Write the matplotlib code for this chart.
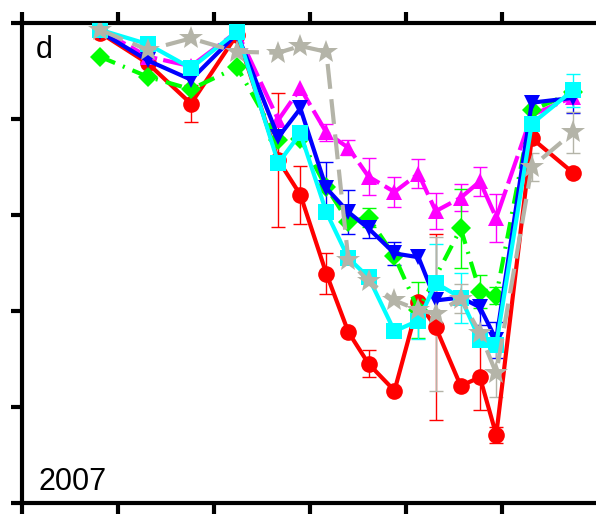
import numpy as np
import matplotlib
matplotlib.use("Agg")
import matplotlib.pyplot as plt

plt.rcParams['font.family'] = ['Liberation Sans', 'DejaVu Sans']

# sampling positions (in tick units)
x = [0.81, 1.31, 1.76, 2.24, 2.67, 2.90, 3.17, 3.40, 3.61, 3.88, 4.13, 4.31, 4.57, 4.77, 4.94, 5.31, 5.74]

red = [4.90, 4.58, 4.16, 4.88, 3.57, 3.21, 2.39, 1.78, 1.45, 1.17, 2.09, 1.83, 1.22, 1.31, 0.71, 3.80, 3.44]
red_err = [0, 0, 0.19, 0, 0.70, 0.30, 0.21, 0, 0.14, 0, 0, 0.97, 0, 0.34, 0.08, 0, 0]

blue = [4.91, 4.61, 4.41, 4.89, 3.81, 4.11, 3.28, 3.03, 2.86, 2.60, 2.56, 2.11, 2.14, 2.04, 1.70, 4.17, 4.22]
blue_err = [0, 0, 0, 0, 0, 0, 0.27, 0.23, 0.10, 0.12, 0, 0, 0, 0.19, 0.19, 0, 0.16]

magenta = [4.93, 4.65, 4.55, 4.91, 3.99, 4.32, 3.86, 3.70, 3.40, 3.24, 3.43, 3.04, 3.18, 3.35, 2.97, 4.04, 4.23]
magenta_err = [0, 0, 0, 0, 0, 0, 0.09, 0.08, 0.19, 0.16, 0.15, 0.19, 0.14, 0.15, 0.25, 0, 0]

green = [4.65, 4.44, 4.31, 4.54, 3.78, 3.79, 3.29, 2.93, 2.97, 2.57, 2.01, np.nan, 2.86, 2.20, 2.16, 4.09, 4.28]
green_err = [0, 0, 0, 0, 0, 0, 0, 0, 0.10, 0, 0.29, 0, 0.41, 0.17, 0.09, 0, 0]

cyan = [4.93, 4.78, 4.53, 4.91, 3.54, 3.85, 3.03, 2.55, 2.35, 1.79, 1.90, 2.29, 2.14, 1.70, 1.65, 3.95, 4.30]
cyan_err = [0, 0, 0, 0, 0, 0, 0, 0, 0, 0, 0.19, 0.41, 0.26, 0, 0, 0, 0.17]

gray = [4.93, 4.72, 4.84, 4.70, 4.69, 4.76, 4.70, 2.53, 2.31, 2.11, 2.01, 1.97, 2.13, 1.77, 1.35, 3.50, 3.86]
gray_err = [0, 0, 0, 0, 0, 0, 0, 0, 0, 0, 0, 0.80, 0.15, 0, 0.25, 0.15, 0.21]

series = [
    (red, red_err, '#ff0000', 'o', 12, None),
    (magenta, magenta_err, '#ff00ff', '^', 12, (7, 1.5)),
    (green, green_err, '#00ff00', 'D', 10, (4, 2, 0.5, 2)),
    (blue, blue_err, '#0000ff', 'v', 12, None),
    (cyan, cyan_err, '#00ffff', 's', 11, None),
    (gray, gray_err, '#b4b4a8', '*', 18, (6, 2.5)),
]

fig = plt.figure(figsize=(5.96, 5.16), dpi=100)
ax = fig.add_axes([22 / 596, 13 / 516, 1 - 22 / 596, 480 / 516])

xs = np.array(x)
for vals, errs, color, marker, ms, dashes in series:
    vals = np.array(vals)
    errs = np.array(errs)
    ok = ~np.isnan(vals)
    eb = ok & (errs > 0)
    ax.errorbar(xs[eb], vals[eb], yerr=errs[eb], fmt='none', ecolor=color,
                elinewidth=1.0, capsize=5, capthick=1.0, zorder=2)
    line, = ax.plot(xs[ok], vals[ok], color=color, marker=marker, markersize=ms,
                    linewidth=3, markeredgewidth=0, zorder=3)
    if dashes is not None:
        line.set_dashes(dashes)

ax.set_xlim(0, 574 / 96)
ax.set_ylim(0, 5)
ax.set_xticks(np.arange(0, 6))
ax.set_yticks(np.arange(0, 6))
ax.set_xticklabels([])
ax.set_yticklabels([])
ax.spines['right'].set_visible(False)
for side in ['left', 'top', 'bottom']:
    ax.spines[side].set_linewidth(3)
ax.tick_params(axis='both', direction='out', length=8, width=3,
               top=True, bottom=True, left=True, right=False)

ax.text(0.14, 4.64, 'd', fontsize=22, va='baseline', ha='left')
ax.text(0.17, 0.14, '2007', fontsize=22, va='baseline', ha='left')

fig.savefig('out.png', dpi=100)
